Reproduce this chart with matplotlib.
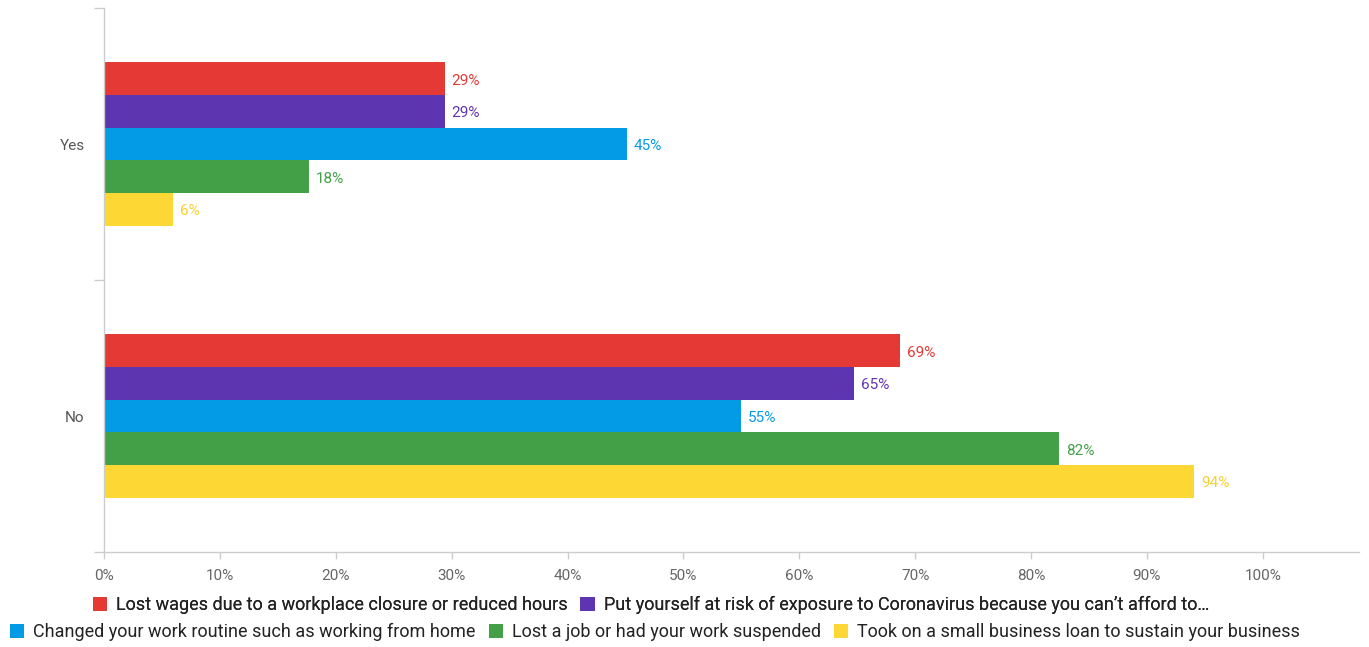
import matplotlib
matplotlib.use("Agg")
import matplotlib.pyplot as plt
from matplotlib.patches import Patch
import numpy as np

categories = ["Yes", "No"]
series_names = [
    "Lost wages due to a workplace closure or reduced hours",
    "Put yourself at risk of exposure to Coronavirus because you can\u2019t afford to\u2026",
    "Changed your work routine such as working from home",
    "Lost a job or had your work suspended",
    "Took on a small business loan to sustain your business",
]
values = [
    [29.4, 68.7],
    [29.4, 64.7],
    [45.1, 55.0],
    [17.7, 82.4],
    [5.95, 94.1],
]
labels = [
    ["29%", "69%"],
    ["29%", "65%"],
    ["45%", "55%"],
    ["18%", "82%"],
    ["6%", "94%"],
]
colors = ["#E53935", "#5E35B1", "#039BE5", "#43A047", "#FDD835"]
label_colors = ["#E53935", "#5E35B1", "#039BE5", "#43A047", "#F9CF2E"]
xticks = [0, 10, 20, 30, 40, 50, 60, 70, 80, 90, 100]

plt.rcParams['font.family'] = ['Roboto', 'DejaVu Sans']

fig = plt.figure(figsize=(13.69, 6.47), dpi=100)
ax = fig.add_axes([104/1369, 1-552/647, (1359-104)/1369, (552-8)/647])

bar_h = 0.12
n = len(series_names)
y_base = np.arange(len(categories))
for i in range(n):
    ys = y_base + (i - (n-1)/2) * bar_h
    ax.barh(ys, values[i], height=bar_h, color=colors[i], linewidth=0)
    for y, v, lab in zip(ys, values[i], labels[i]):
        ax.annotate(lab, (v, y), xytext=(5, -1.5), textcoords="offset points",
                    va="center", ha="left", fontsize=11, color=label_colors[i])

ax.set_ylim(1.5, -0.5)
ax.set_xlim(0, 108.3)
ax.set_yticks([-0.5, 0.5, 1.5])
ax.set_yticklabels([])
ax.set_yticks(y_base, minor=True)
ax.set_yticklabels(categories, minor=True)
ax.tick_params(axis="y", which="major", length=7, color="#cccccc", width=1)
ax.tick_params(axis="y", which="minor", length=0, pad=14, labelsize=11, labelcolor="#555555")
ax.set_xticks(xticks)
ax.set_xticklabels([f"{t}%" for t in xticks])
ax.tick_params(axis="x", length=5, color="#cccccc", width=1, labelsize=11, labelcolor="#666666", pad=7)
for s in ["top", "right"]:
    ax.spines[s].set_visible(False)
for s in ["left", "bottom"]:
    ax.spines[s].set_color("#cccccc")
    ax.spines[s].set_linewidth(1)

handles = [Patch(facecolor=c, edgecolor="none") for c in colors]
leg1 = fig.legend(handles[:2], series_names[:2], loc="center", bbox_to_anchor=(651/1369, 1-605/647),
                  ncol=2, frameon=False, fontsize=13, handlelength=0.8, handleheight=0.8,
                  handletextpad=0.5, columnspacing=0.7, borderpad=0)
leg2 = fig.legend(handles[2:], series_names[2:], loc="center", bbox_to_anchor=(655/1369, 1-632/647),
                  ncol=3, frameon=False, fontsize=13, handlelength=0.8, handleheight=0.8,
                  handletextpad=0.5, columnspacing=0.7, borderpad=0)
fig.add_artist(leg1)
for leg in (leg1, leg2):
    for t in leg.get_texts():
        t.set_color("#222222")

fig.savefig("out.png", dpi=100)
